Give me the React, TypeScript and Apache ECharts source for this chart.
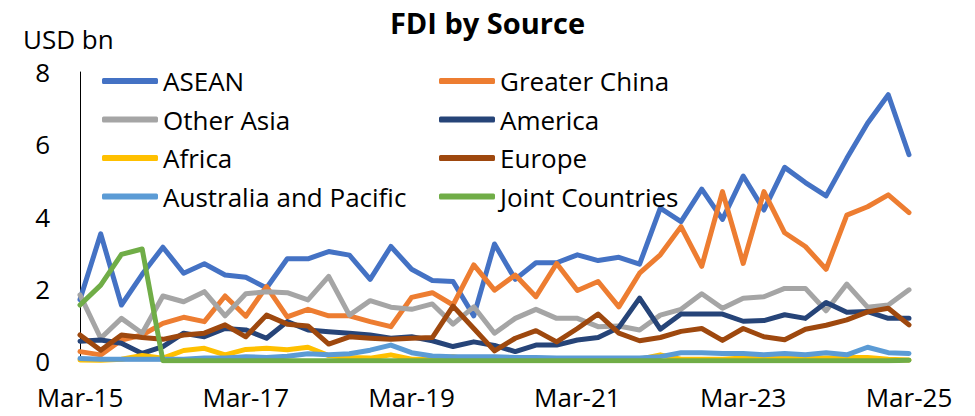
import React, { useEffect, useRef } from "react";
import * as echarts from "echarts";

const categories: string[] = (() => {
  const out: string[] = [];
  const months = ["Mar", "Jun", "Sep", "Dec"];
  for (let y = 15; y <= 25; y++) {
    for (const m of months) {
      if (y === 25 && m !== "Mar") break;
      out.push(`${m}-${y}`);
    }
  }
  return out;
})();

const seriesNames = [
  "ASEAN",
  "Greater China",
  "Other Asia",
  "America",
  "Africa",
  "Europe",
  "Australia and Pacific",
  "Joint Countries",
];

const asean = [1.7, 3.52, 1.55, 2.4, 3.15, 2.43, 2.69, 2.38, 2.32, 2.02, 2.83, 2.83, 3.03, 2.93, 2.26, 3.17, 2.54, 2.23, 2.2, 1.25, 3.24, 2.26, 2.72, 2.72, 2.94, 2.78, 2.87, 2.68, 4.23, 3.86, 4.76, 3.92, 5.12, 4.18, 5.36, 4.94, 4.57, 5.61, 6.58, 7.37, 5.71];
const greaterChina = [0.26, 0.17, 0.58, 0.72, 1.04, 1.21, 1.09, 1.8, 1.24, 2.06, 1.22, 1.43, 1.25, 1.25, 1.09, 0.95, 1.76, 1.89, 1.55, 2.66, 1.96, 2.38, 1.78, 2.7, 1.95, 2.2, 1.5, 2.43, 2.94, 3.72, 2.62, 4.69, 2.7, 4.69, 3.55, 3.17, 2.54, 4.04, 4.27, 4.6, 4.11];
const otherAsia = [1.83, 0.63, 1.18, 0.77, 1.8, 1.64, 1.92, 1.25, 1.86, 1.92, 1.89, 1.69, 2.34, 1.27, 1.67, 1.49, 1.43, 1.58, 1.02, 1.5, 0.77, 1.18, 1.43, 1.18, 1.18, 0.95, 0.97, 0.86, 1.27, 1.43, 1.86, 1.46, 1.74, 1.78, 2.01, 2.01, 1.39, 2.13, 1.49, 1.55, 1.97];
const america = [0.55, 0.58, 0.49, 0.21, 0.4, 0.77, 0.67, 0.9, 0.86, 0.63, 1.09, 0.86, 0.81, 0.77, 0.72, 0.63, 0.67, 0.56, 0.4, 0.53, 0.43, 0.26, 0.44, 0.44, 0.58, 0.65, 0.93, 1.74, 0.88, 1.3, 1.3, 1.3, 1.1, 1.12, 1.28, 1.18, 1.62, 1.35, 1.37, 1.18, 1.18];
const africa = [0.03, 0.02, 0.05, 0.15, 0.08, 0.29, 0.35, 0.17, 0.32, 0.35, 0.31, 0.38, 0.15, 0.1, 0.08, 0.17, 0.05, 0.05, 0.12, 0.03, 0.03, 0.03, 0.03, 0.03, 0.03, 0.03, 0.03, 0.05, 0.17, 0.05, 0.05, 0.05, 0.08, 0.08, 0.12, 0.08, 0.08, 0.1, 0.1, 0.05, 0.03];
const europe = [0.72, 0.3, 0.72, 0.65, 0.6, 0.72, 0.77, 1.0, 0.67, 1.27, 1.02, 0.97, 0.47, 0.67, 0.63, 0.6, 0.63, 0.65, 1.52, 0.9, 0.28, 0.63, 0.84, 0.53, 0.9, 1.3, 0.77, 0.56, 0.65, 0.82, 0.9, 0.57, 0.9, 0.67, 0.59, 0.88, 0.99, 1.14, 1.36, 1.46, 1.0];
const australiaPacific = [0.07, 0.05, 0.05, 0.05, 0.05, 0.05, 0.08, 0.08, 0.12, 0.1, 0.13, 0.2, 0.17, 0.2, 0.3, 0.44, 0.23, 0.14, 0.12, 0.12, 0.12, 0.1, 0.1, 0.08, 0.08, 0.08, 0.08, 0.08, 0.12, 0.23, 0.23, 0.21, 0.21, 0.17, 0.21, 0.17, 0.23, 0.17, 0.38, 0.23, 0.21];
const jointCountries = [1.55, 2.1, 2.95, 3.1, 0.01, 0.01, 0.01, 0.01, 0.01, 0.01, 0.01, 0.01, 0.01, 0.01, 0.01, 0.01, 0.01, 0.01, 0.01, 0.01, 0.01, 0.01, 0.01, 0.01, 0.01, 0.01, 0.01, 0.01, 0.01, 0.01, 0.01, 0.01, 0.01, 0.01, 0.01, 0.01, 0.01, 0.01, 0.01, 0.01, 0.02];

const seriesValues = [asean, greaterChina, otherAsia, america, africa, europe, australiaPacific, jointCountries];
const colors = ["#4472C4", "#ED7D31", "#A5A5A5", "#264478", "#FFC000", "#9E480E", "#5B9BD5", "#70AD47"];

const FONT = "'Open Sans', 'Noto Sans', sans-serif";
const FS = 26;

export default function App() {
  const ref = useRef<HTMLDivElement>(null);
  useEffect(() => {
    document.body.style.margin = "0";
    if (!ref.current) return;
    const chart = echarts.init(ref.current, undefined, { renderer: "svg" });
    const legendCommon = {
      orient: "vertical" as const,
      top: 61,
      itemWidth: 56,
      itemHeight: 6,
      itemGap: 8.5,
      icon: "roundRect",
      selectedMode: false,
      textStyle: { fontFamily: FONT, fontSize: FS, color: "#000", lineHeight: 30 },
    };
    chart.setOption({
      animation: false,
      backgroundColor: "#fff",
      color: colors,
      title: {
        text: "FDI by Source",
        left: "center",
        top: 3,
        textStyle: { fontFamily: FONT, fontSize: 29, fontWeight: "bold", color: "#000" },
      },
      graphic: [
        {
          type: "text",
          left: 23,
          top: 26,
          style: { text: "USD bn", fontFamily: FONT, fontSize: FS, fill: "#000" },
        },
      ],
      legend: [
        { ...legendCommon, left: 97, data: [seriesNames[0], seriesNames[2], seriesNames[4], seriesNames[6]] },
        { ...legendCommon, left: 434, data: [seriesNames[1], seriesNames[3], seriesNames[5], seriesNames[7]] },
      ],
      grid: { left: 80, right: 66, top: 72, bottom: 55, containLabel: false },
      xAxis: {
        type: "category",
        data: categories,
        boundaryGap: false,
        axisLine: { show: true, lineStyle: { color: "#D9D9D9", width: 1 } },
        axisTick: { show: false },
        axisLabel: {
          interval: 7,
          margin: 23,
          fontFamily: FONT,
          fontSize: FS,
          color: "#000",
        },
        splitLine: { show: false },
      },
      yAxis: {
        type: "value",
        min: 0,
        max: 8,
        interval: 2,
        axisLine: { show: true, lineStyle: { color: "#000", width: 1 } },
        axisTick: { show: false },
        axisLabel: { margin: 30, fontFamily: FONT, fontSize: FS, color: "#000" },
        splitLine: { show: false },
      },
      series: seriesNames.map((name, i) => ({
        name,
        type: "line",
        data: seriesValues[i],
        showSymbol: false,
        symbol: "none",
        lineStyle: { width: 5, color: colors[i], cap: "round", join: "round" },
        itemStyle: { color: colors[i] },
        z: 2 + i,
      })),
    });
    return () => chart.dispose();
  }, []);
  return <div ref={ref} style={{ width: 975, height: 416 }} />;
}
